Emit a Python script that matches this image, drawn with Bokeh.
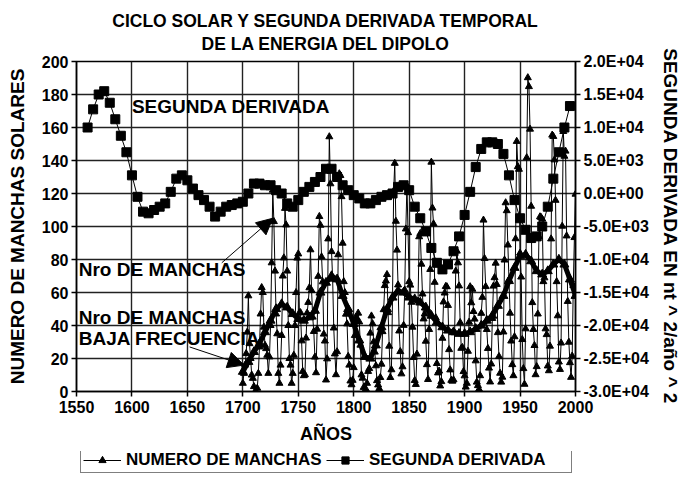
from bokeh.plotting import figure
from bokeh.layouts import column
from bokeh.models import (LinearAxis, Range1d, FixedTicker, Title, Label, Arrow,
                          NormalHead, Legend, LegendItem)
from bokeh.embed import file_html
from bokeh.resources import INLINE

# ---------------- data ----------------
ss_years = list(range(1700, 2001))
sunspots = [
    5, 11, 16, 23, 36, 58, 29, 20, 10, 8,
    3, 0, 0, 2, 11, 27, 47, 63, 60, 39,
    28, 26, 22, 11, 21, 40, 78, 122, 103, 73,
    47, 35, 11, 5, 16, 34, 70, 81, 111, 101,
    73, 40, 20, 16, 5, 11, 22, 40, 60, 80.9,
    83.4, 47.7, 47.8, 30.7, 12.2, 9.6, 10.2, 32.4, 47.6, 54.0,
    62.9, 85.9, 61.2, 45.1, 36.4, 20.9, 11.4, 37.8, 69.8, 106.1,
    100.8, 81.6, 66.5, 34.8, 30.6, 7.0, 19.8, 92.5, 154.4, 125.9,
    84.8, 68.1, 38.5, 22.8, 10.2, 24.1, 82.9, 132.0, 130.9, 118.1,
    89.9, 66.6, 60.0, 46.9, 41.0, 21.3, 16.0, 6.4, 4.1, 6.8,
    14.5, 34.0, 45.0, 43.1, 47.5, 42.2, 28.1, 10.1, 8.1, 2.5,
    0.0, 1.4, 5.0, 12.2, 13.9, 35.4, 45.8, 41.1, 30.1, 23.9,
    15.6, 6.6, 4.0, 1.8, 8.5, 16.6, 36.3, 49.6, 64.2, 67.0,
    70.9, 47.8, 27.5, 8.5, 13.2, 56.9, 121.5, 138.3, 103.2, 85.7,
    64.6, 36.7, 24.2, 10.7, 15.0, 40.1, 61.5, 98.5, 124.7, 96.3,
    66.6, 64.5, 54.1, 39.0, 20.6, 6.7, 4.3, 22.7, 54.8, 93.8,
    95.8, 77.2, 59.1, 44.0, 47.0, 30.5, 16.3, 7.3, 37.6, 74.0,
    139.0, 111.2, 101.6, 66.2, 44.7, 17.0, 11.3, 12.4, 3.4, 6.0,
    32.3, 54.3, 59.7, 63.7, 63.5, 52.2, 25.4, 13.1, 6.8, 6.3,
    7.1, 35.6, 73.0, 85.1, 78.0, 64.0, 41.8, 26.2, 26.7, 12.1,
    9.5, 2.7, 5.0, 24.4, 42.0, 63.5, 53.8, 62.0, 48.5, 43.9,
    18.6, 5.7, 3.6, 1.4, 9.6, 47.4, 57.1, 103.9, 80.6, 63.6,
    37.6, 26.1, 14.2, 5.8, 16.7, 44.3, 63.9, 69.0, 77.8, 64.9,
    35.7, 21.2, 11.1, 5.7, 8.7, 36.1, 79.7, 114.4, 109.6, 88.8,
    67.8, 47.5, 30.6, 16.3, 9.6, 33.2, 92.6, 151.6, 136.3, 134.7,
    83.9, 69.4, 31.5, 13.9, 4.4, 38.0, 141.7, 190.2, 184.8, 159.0,
    112.3, 53.9, 37.6, 27.9, 10.2, 15.1, 47.0, 93.8, 105.9, 105.5,
    104.5, 66.6, 68.9, 38.0, 34.5, 15.5, 12.6, 27.5, 92.5, 155.4,
    154.6, 140.4, 115.9, 66.6, 45.9, 17.9, 13.4, 29.4, 100.2, 157.6,
    142.6, 145.7, 94.3, 54.6, 29.9, 17.5, 8.6, 21.5, 64.3, 93.3,
    119.6,
]

lf_years = list(range(1700, 2001, 5))
low_freq = [
    12, 18, 24, 29, 36, 43, 50, 53, 51, 47,
    44, 43, 45, 49, 60, 66, 70, 68, 58, 50,
    41, 31, 21, 20, 28, 39, 50, 57, 61, 60,
    57, 56, 54, 51, 46, 42, 39, 37, 36, 35,
    35, 36, 38, 40, 43, 46, 52, 58, 67, 75,
    82, 83, 79, 73, 71, 73, 77, 80, 77, 68,
    58,
]

d2_years = list(range(1560, 1996, 5))
deriv2 = [  # nt^2/año^2
    10000, 12750, 15000, 15500, 13750, 11250, 8750, 6250, 2750, -500,
    -2750, -3000, -2500, -2000, -1500, 250, 2250, 2750, 2000, 750,
    -250, -1000, -2000, -3500, -2750, -2000, -1750, -1500, -1250, 0,
    1500, 1500, 1250, 1250, 500, 0, -1500, -2000, -1000, 250,
    1000, 1750, 2500, 3750, 3750, 2500, 1250, 500, -250, -750,
    -1500, -1500, -1000, -500, -250, 0, 1000, 1250, 500, -2000,
    -3750, -5750, -8250, -10500, -11500, -10750, -8750, -6500, -3250, 250,
    4000, 6750, 7750, 7750, 7500, 6000, 2750, -1000, -3750, -5500,
    -6750, -6500, -5000, -2000, 2250, 6250, 10000, 13250,
]

x_ticks = list(range(1550, 2001, 50))
y_ticks = list(range(0, 201, 20))
d2_ticks = list(range(-30000, 20001, 5000))

FONT = "Liberation Sans"

# ---------------- main figure ----------------
p = figure(width=683, height=451, x_range=Range1d(1550, 2000), y_range=Range1d(0, 200),
           output_backend="svg", toolbar_location=None,
           min_border_left=76, min_border_right=104, min_border_top=58, min_border_bottom=60,
           background_fill_color="white", border_fill_color="white")
p.extra_y_ranges = {"d2": Range1d(-30000, 20000)}

p.outline_line_color = "black"
p.outline_line_width = 1.5

for g in (p.xgrid, p.ygrid):
    g.grid_line_color = "#222222"
    g.grid_line_width = 1.4
p.xgrid.ticker = FixedTicker(ticks=x_ticks)
p.ygrid.ticker = FixedTicker(ticks=y_ticks)

def style_axis(ax, size="16px", label_size="19px"):
    ax.major_label_text_font = FONT
    ax.major_label_text_font_style = "bold"
    ax.major_label_text_font_size = size
    ax.major_label_text_color = "black"
    ax.axis_label_text_font = FONT
    ax.axis_label_text_font_style = "bold"
    ax.axis_label_text_font_size = label_size
    ax.axis_label_text_color = "black"
    ax.axis_line_color = "black"
    ax.axis_line_width = 1.5
    ax.major_tick_line_color = "black"
    ax.major_tick_line_width = 1.5
    ax.major_tick_out = 5
    ax.major_tick_in = 0
    ax.minor_tick_line_color = None

xa = p.xaxis[0]
xa.ticker = FixedTicker(ticks=x_ticks)
xa.axis_label = "AÑOS"
style_axis(xa, "16px", "18px")
xa.major_label_standoff = 4
xa.axis_label_standoff = 8

ya = p.yaxis[0]
ya.ticker = FixedTicker(ticks=y_ticks)
ya.axis_label = "NUMERO DE MANCHAS SOLARES"
style_axis(ya, "16px", "19px")
ya.major_label_standoff = 3
ya.axis_label_standoff = 11

ra = LinearAxis(y_range_name="d2", ticker=FixedTicker(ticks=d2_ticks),
                axis_label="SEGUNDA DERIVADA EN nt ^ 2/año ^ 2")
ra.major_label_overrides = {v: f"{v:.1E}" for v in d2_ticks}
style_axis(ra, "16px", "19px")
ra.major_label_standoff = 3
ra.axis_label_standoff = 8
p.add_layout(ra, "right")

# two-line title
p.title = Title(text="CICLO SOLAR Y SEGUNDA DERIVADA TEMPORAL\nDE LA ENERGIA DEL DIPOLO",
                align="center", text_align="center", text_font=FONT,
                text_font_style="bold", text_font_size="17.5px", text_color="black",
                text_line_height=1.15, standoff=16)

# ---------------- series ----------------
p.line(ss_years, sunspots, line_color="black", line_width=1)
p.scatter(ss_years, sunspots, marker="triangle", size=7, color="black")

p.line(lf_years, low_freq, line_color="black", line_width=5)
p.scatter(lf_years, low_freq, marker="triangle", size=9, color="black")

p.line(d2_years, deriv2, y_range_name="d2", line_color="black", line_width=1)
p.scatter(d2_years, deriv2, y_range_name="d2", marker="square", size=9, color="black")

# ---------------- annotations ----------------
def lab(x, y, t):
    p.add_layout(Label(x=x, y=y, text=t, text_font=FONT, text_font_style="bold",
                       text_font_size="19px", text_color="black", text_baseline="middle"))

lab(1600, 173, "SEGUNDA DERIVADA")
lab(1552, 74, "Nro DE MANCHAS")
lab(1552, 45, "Nro DE MANCHAS")
lab(1552, 32, "BAJA FRECUENCIA")

p.add_layout(Arrow(x_start=1681, y_start=78, x_end=1727, y_end=105, line_width=1,
                   line_color="black",
                   end=NormalHead(size=16, fill_color="black", line_color="black")))
p.add_layout(Arrow(x_start=1652, y_start=27, x_end=1701, y_end=16, line_width=1,
                   line_color="black",
                   end=NormalHead(size=16, fill_color="black", line_color="black")))

# ---------------- legend strip (its own small figure, frame aligned with p) ----------------
lg = figure(width=683, height=22, x_range=Range1d(0, 1), y_range=Range1d(0, 1),
            output_backend="svg", toolbar_location=None, min_border=0,
            x_axis_type=None, y_axis_type=None,
            background_fill_color="white", border_fill_color="white")
lg.outline_line_color = None
lg.xgrid.visible = False
lg.ygrid.visible = False
# series re-used only to give the legend its swatches (they fall outside this strip's ranges)
k1 = lg.line(ss_years, sunspots, line_color="black", line_width=1)
k2 = lg.scatter(ss_years, sunspots, marker="triangle", size=9, color="black")
k3 = lg.line(d2_years, deriv2, line_color="black", line_width=1)
k4 = lg.scatter(d2_years, deriv2, marker="square", size=8, color="black")
legend = Legend(items=[LegendItem(label="NUMERO DE MANCHAS", renderers=[k1, k2]),
                       LegendItem(label="SEGUNDA DERIVADA", renderers=[k3, k4])],
                orientation="horizontal", location=(4, 0),
                label_text_font=FONT, label_text_font_style="bold", label_text_font_size="17px",
                label_text_color="black", glyph_width=38, glyph_height=18, label_width=200,
                label_standoff=5, spacing=0, padding=2, margin=0,
                border_line_color="black", border_line_width=1.2,
                background_fill_alpha=1.0)
lg.add_layout(legend, "center")

layout = column(p, lg, spacing=0)
open("out.html", "w").write(file_html(layout, INLINE))
